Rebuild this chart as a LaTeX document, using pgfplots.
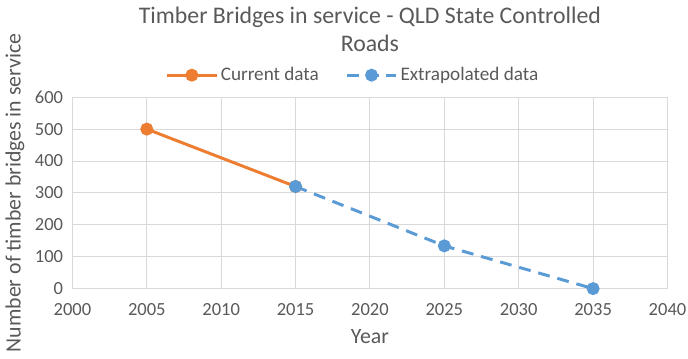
\documentclass[border=0pt]{standalone}
\usepackage{pgfplots}
\pgfplotsset{compat=1.18}
\usepackage{fontspec}
\setmainfont{Carlito}
\definecolor{exOrange}{HTML}{ED7D31}
\definecolor{exBlue}{HTML}{5B9BD5}
\definecolor{gridgray}{HTML}{D9D9D9}
\definecolor{txtgray}{HTML}{595959}
\begin{document}
\begin{tikzpicture}
\begin{axis}[
  scale only axis, width=450pt, height=144.75pt,
  xmin=2000, xmax=2040, ymin=0, ymax=600,
  xtick={2000,2005,...,2040}, ytick={0,100,...,600},
  grid=major, grid style={gridgray, line width=0.75pt},
  axis line style={gridgray, line width=0.75pt},
  major tick length=0,
  /pgf/number format/assume math mode=true,
  xticklabel style={/pgf/number format/1000 sep={}, yshift=-7.5pt},
  yticklabel style={xshift=-3.5pt},
  tick label style={font=\fontsize{14}{16}\selectfont, text=txtgray},
  xlabel={Year}, ylabel={Number of timber bridges in service},
  label style={font=\fontsize{16.5}{19}\selectfont, text=txtgray},
  xlabel style={at={(axis description cs:0.5,-0.25)}, anchor=center},
  ylabel style={at={(axis description cs:-0.0967,0.5)}, anchor=center},
  title={Timber Bridges in service - QLD State Controlled\\Roads},
  title style={align=center, font=\fontsize{18}{21}\selectfont, text=txtgray, at={(axis description cs:0.5,1)}, anchor=center, yshift=45.5pt},
  legend style={at={(axis description cs:0.472,1.115)}, anchor=center, draw=none, fill=none, legend columns=2,
    font=\fontsize{14.5}{17}\selectfont, text=txtgray,
    /tikz/every even column/.append style={column sep=18pt}},
  legend image code/.code={\draw[mark repeat=2,mark phase=2,#1] plot coordinates {(0pt,0pt)(18.75pt,0pt)(37.5pt,0pt)};},
]
\addplot[exOrange, line width=2.25pt, mark=*, mark size=3.75pt, mark options={solid}] coordinates {(2005,500) (2015,320)};
\addlegendentry{Current data}
\addplot[exBlue, line width=2.25pt, dash pattern=on 9pt off 6pt, mark=*, mark size=3.75pt, mark options={solid}] coordinates {(2015,320) (2025,134) (2035,0)};
\addlegendentry{Extrapolated data}
\end{axis}
\pgfresetboundingbox
\path ([shift={(-54.75pt,-52.5pt)}]current axis.south west) rectangle ([shift={(15.5pt,73.5pt)}]current axis.north east);
\end{tikzpicture}
\end{document}
